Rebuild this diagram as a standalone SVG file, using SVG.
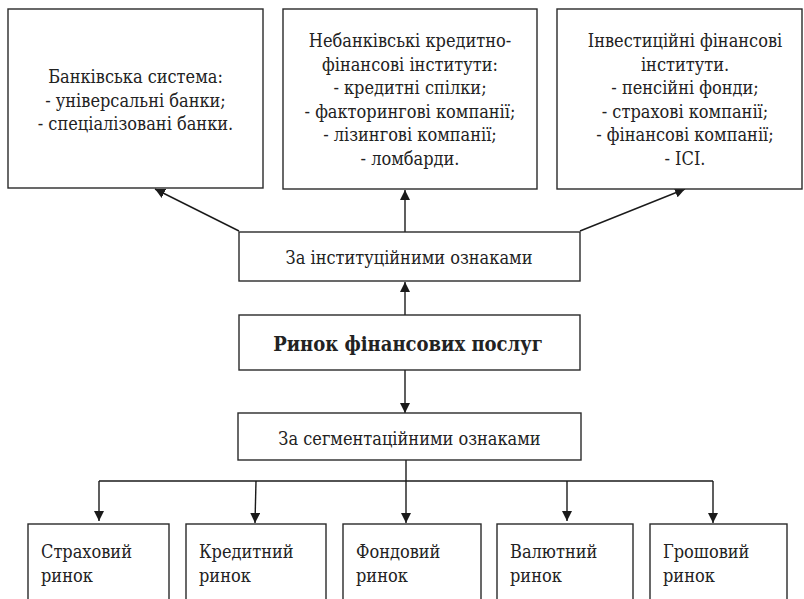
<svg xmlns="http://www.w3.org/2000/svg" width="804" height="599" viewBox="0 0 804 599">
<defs>
<style>
.box{fill:#fff;stroke:#2a2a2a;stroke-width:1.4}
text{font-family:'DejaVu Serif Condensed','DejaVu Serif',serif;font-size:18px;fill:#222}
.c{text-anchor:middle}
.b{font-weight:bold;font-size:20px}
.ln{stroke:#1a1a1a;stroke-width:1.4;fill:none}
</style>
<marker id="ah" markerUnits="userSpaceOnUse" markerWidth="11" markerHeight="10" refX="10" refY="5" orient="auto">
<path d="M0,0 L10,5 L0,10 z" fill="#1a1a1a"/>
</marker>
</defs>
<rect width="804" height="599" fill="#fff"/>

<g id="connectors">
<line class="ln" x1="405" y1="232" x2="405" y2="190" marker-end="url(#ah)"/>
<line class="ln" x1="239" y1="231" x2="155" y2="189" marker-end="url(#ah)"/>
<line class="ln" x1="580" y1="231" x2="685" y2="189" marker-end="url(#ah)"/>
<line class="ln" x1="405" y1="315" x2="405" y2="282" marker-end="url(#ah)"/>
<line class="ln" x1="405" y1="370" x2="405" y2="413" marker-end="url(#ah)"/>
<line class="ln" x1="406" y1="460" x2="406" y2="523" marker-end="url(#ah)"/>
<polyline class="ln" points="99,481 713,481"/>
<line class="ln" x1="99" y1="481" x2="99" y2="521" marker-end="url(#ah)"/>
<line class="ln" x1="256" y1="481" x2="255" y2="523" marker-end="url(#ah)"/>
<line class="ln" x1="567" y1="481" x2="567" y2="521" marker-end="url(#ah)"/>
<line class="ln" x1="713" y1="481" x2="713" y2="523" marker-end="url(#ah)"/>
</g>

<g id="banking">
<rect class="box" x="8" y="9" width="255" height="179"/>
<text class="c" x="135.5" y="83">Банківська система:</text>
<text class="c" x="135.5" y="106.5">- універсальні банки;</text>
<text class="c" x="135.5" y="130">- спеціалізовані банки.</text>
</g>

<g id="nonbanking">
<rect class="box" x="283" y="9" width="254" height="180"/>
<text class="c" x="410" y="47">Небанківські кредитно-</text>
<text class="c" x="410" y="70.5">фінансові інститути:</text>
<text class="c" x="410" y="94">- кредитні спілки;</text>
<text class="c" x="410" y="117.5">- факторингові компанії;</text>
<text class="c" x="410" y="141">- лізингові компанії;</text>
<text class="c" x="410" y="164.5">- ломбарди.</text>
</g>

<g id="investment">
<rect class="box" x="557" y="9" width="245" height="180"/>
<text class="c" x="685" y="47">Інвестиційні фінансові</text>
<text class="c" x="685" y="70.5">інститути.</text>
<text class="c" x="685" y="94">- пенсійні фонди;</text>
<text class="c" x="685" y="117.5">- страхові компанії;</text>
<text class="c" x="685" y="141">- фінансові компанії;</text>
<text class="c" x="685" y="164.5">- ІСІ.</text>
</g>

<g id="institutional">
<rect class="box" x="239" y="232" width="341" height="49"/>
<text class="c" x="409" y="264">За інституційними ознаками</text>
</g>

<g id="market">
<rect class="box" x="239" y="315" width="341" height="55"/>
<text class="c b" x="408" y="351">Ринок фінансових послуг</text>
</g>

<g id="segment">
<rect class="box" x="238" y="413" width="343" height="47"/>
<text class="c" x="409.5" y="445">За сегментаційними ознаками</text>
</g>

<g id="insurance">
<rect class="box" x="28" y="524" width="141" height="100"/>
<text x="41" y="558">Страховий</text>
<text x="41" y="582">ринок</text>
</g>

<g id="credit">
<rect class="box" x="186" y="524" width="140" height="100"/>
<text x="199" y="558">Кредитний</text>
<text x="199" y="582">ринок</text>
</g>

<g id="stock">
<rect class="box" x="343" y="524" width="138" height="100"/>
<text x="356" y="558">Фондовий</text>
<text x="356" y="582">ринок</text>
</g>

<g id="currency">
<rect class="box" x="497" y="524" width="136" height="100"/>
<text x="510" y="558">Валютний</text>
<text x="510" y="582">ринок</text>
</g>

<g id="money">
<rect class="box" x="650" y="524" width="137" height="100"/>
<text x="663" y="558">Грошовий</text>
<text x="663" y="582">ринок</text>
</g>
</svg>
